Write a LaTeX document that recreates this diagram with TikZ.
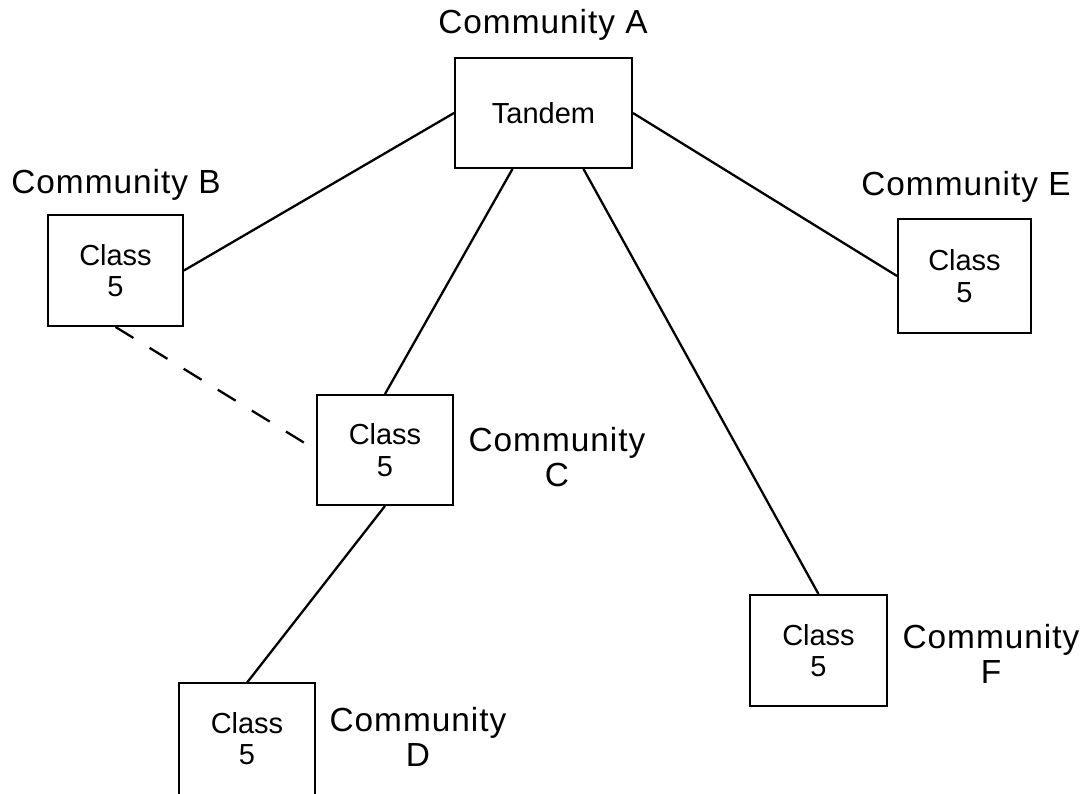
\documentclass[tikz,border=0pt]{standalone}
\usepackage{fontspec}
\setmainfont{Liberation Sans}
\newfontfamily\lettering[LetterSpace=3]{Liberation Sans}
\begin{document}
\begin{tikzpicture}[x=0.02cm, y=-0.02cm,
  office/.style={draw, line width=1.1pt, inner sep=0pt, align=center,
    font=\fontsize{16.5}{18}\selectfont},
  officeopen/.style={inner sep=0pt, align=center,
    font=\fontsize{16.5}{18}\selectfont},
  community/.style={inner sep=0pt, align=center,
    font=\lettering\fontsize{19}{20}\selectfont},
  trunk/.style={line width=1.3pt},
  alt/.style={line width=1.3pt, dash pattern=on 0.42cm off 0.38cm}]
\useasboundingbox (0,0) rectangle (1090,794);

% switching offices
\node[office, minimum width=3.54cm, minimum height=2.2cm] (A) at (543.5,113) {Tandem};
\node[office, minimum width=2.7cm, minimum height=2.22cm] (B) at (115.5,270.5) {Class\\5};
\node[office, minimum width=2.66cm, minimum height=2.28cm] (E) at (964.5,276) {Class\\5};
\node[office, minimum width=2.72cm, minimum height=2.2cm] (C) at (385,450) {Class\\5};
\node[office, minimum width=2.74cm, minimum height=2.22cm] (F) at (818.5,650.5) {Class\\5};
\node[officeopen, minimum width=2.72cm, minimum height=2.22cm] (D) at (247,738.5) {Class\\5};
\draw[line width=1.1pt] (D.south west) -- (D.north west) -- (D.north east) -- (D.south east);

% community names
\node[community] (lA) at (543,25) {Community A};
\node[community] (lB) at (116,185) {Community B};
\node[community] (lE) at (966,187) {Community E};
\node[community] (lC) at (557,457) {Community\\C};
\node[community] (lD) at (418,737) {Community\\D};
\node[community] (lF) at (991,654) {Community\\F};

% trunks
\draw[trunk] (A.west) -- (B.east);
\draw[trunk] (A.east) -- (E.west);
\draw[trunk] ([xshift=-0.62cm]A.south) -- (C.north);
\draw[trunk] ([xshift=0.8cm]A.south) -- (F.north);
\draw[trunk] (C.south) -- (D.north);
\draw[alt] (B.south) -- (C.west);
\end{tikzpicture}
\end{document}
